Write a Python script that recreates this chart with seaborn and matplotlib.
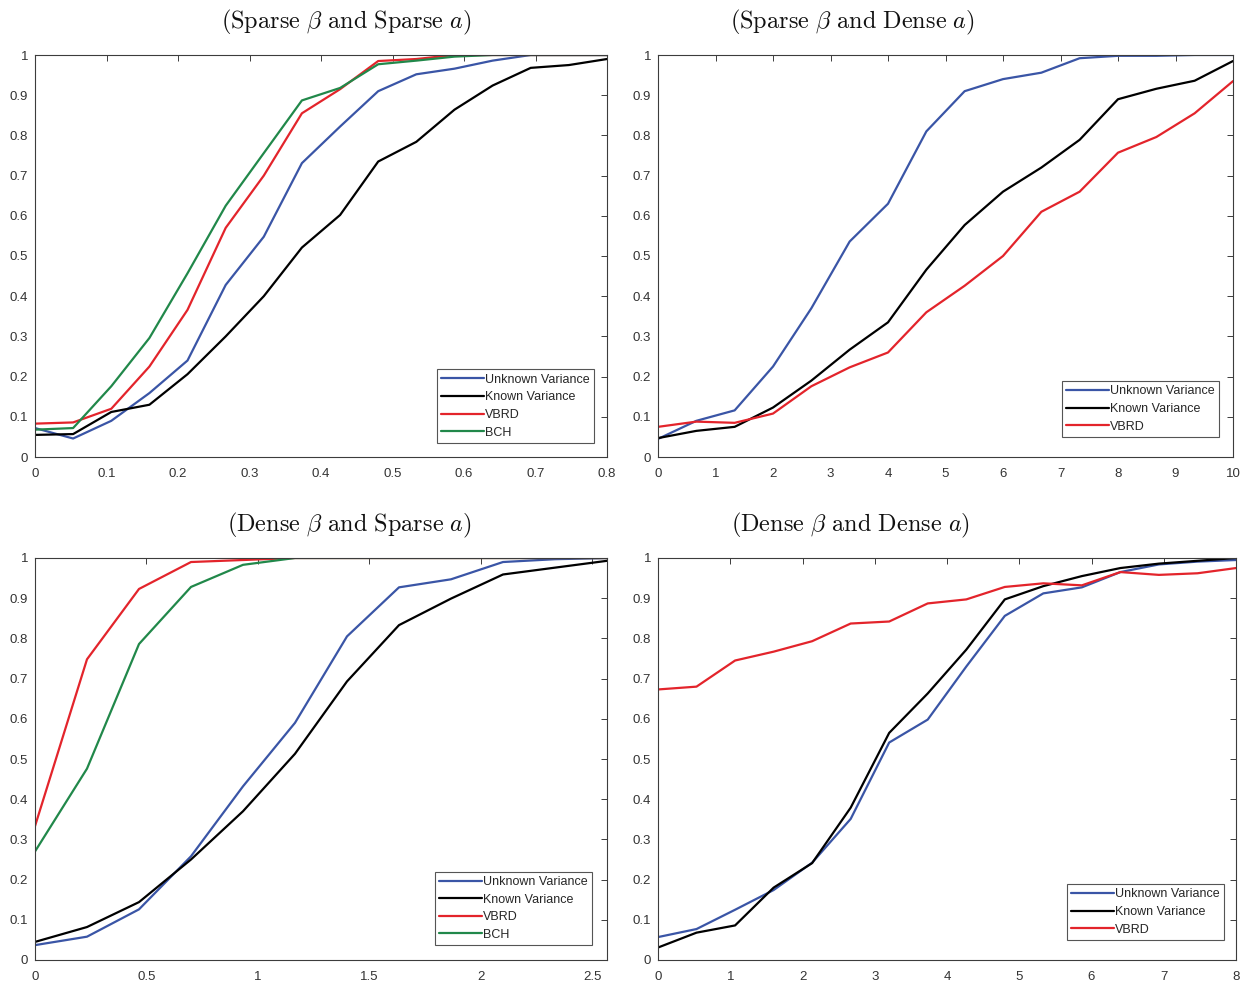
import matplotlib
matplotlib.use("Agg")
import matplotlib.pyplot as plt
from matplotlib.ticker import FuncFormatter, MultipleLocator
import pandas as pd
import seaborn as sns

# ---- data -------------------------------------------------------------
methods = ["Unknown Variance", "Known Variance", "VBRD", "BCH"]

# (Sparse beta and Sparse a)
x_ss = [0, 0.0533, 0.1067, 0.16, 0.2133, 0.2667, 0.32, 0.3733, 0.4267, 0.48,
        0.5333, 0.5867, 0.64, 0.6933, 0.7467, 0.8]
ss_unknown = [0.072, 0.046, 0.09, 0.159, 0.24, 0.428, 0.548, 0.731, 0.822, 0.91,
              0.952, 0.966, 0.986, 1.0, 1.0, 1.0]
ss_known = [0.055, 0.057, 0.112, 0.13, 0.206, 0.30, 0.40, 0.521, 0.602, 0.735,
            0.784, 0.864, 0.924, 0.968, 0.975, 0.99]
ss_vbrd = [0.083, 0.086, 0.12, 0.225, 0.366, 0.57, 0.70, 0.855, 0.915, 0.985,
           0.99, 1.0, 1.0, 1.0, 1.0, 1.0]
ss_bch = [0.068, 0.072, 0.176, 0.296, 0.457, 0.625, 0.756, 0.887, 0.918, 0.977,
          0.986, 0.996, 1.0, 1.0, 1.0, 1.0]

# (Sparse beta and Dense a)
x_sd = [0, 0.667, 1.333, 2, 2.667, 3.333, 4, 4.667, 5.333, 6, 6.667, 7.333,
        8, 8.667, 9.333, 10]
sd_unknown = [0.045, 0.09, 0.116, 0.225, 0.37, 0.536, 0.63, 0.81, 0.91, 0.94,
              0.956, 0.992, 0.998, 0.998, 1.0, 1.0]
sd_known = [0.047, 0.065, 0.075, 0.123, 0.19, 0.267, 0.335, 0.466, 0.577, 0.66,
            0.72, 0.789, 0.89, 0.916, 0.936, 0.985]
sd_vbrd = [0.075, 0.088, 0.085, 0.108, 0.176, 0.223, 0.26, 0.36, 0.426, 0.50,
           0.61, 0.66, 0.757, 0.796, 0.855, 0.935]

# (Dense beta and Sparse a)
x_ds = [0, 0.2333, 0.4667, 0.7, 0.9333, 1.1667, 1.4, 1.6333, 1.8667, 2.1,
        2.3333, 2.5667]
ds_unknown = [0.037, 0.058, 0.126, 0.258, 0.432, 0.59, 0.805, 0.927, 0.947, 0.99,
              0.997, 1.0]
ds_known = [0.045, 0.082, 0.144, 0.25, 0.37, 0.513, 0.693, 0.833, 0.899, 0.959,
            0.976, 0.993]
ds_vbrd = [0.333, 0.748, 0.923, 0.99, 0.995, 1.0, 1.0, 1.0, 1.0, 1.0, 1.0, 1.0]
ds_bch = [0.27, 0.476, 0.786, 0.928, 0.983, 1.0, 1.0, 1.0, 1.0, 1.0, 1.0, 1.0]

# (Dense beta and Dense a)
x_dd = [0, 0.533, 1.067, 1.6, 2.133, 2.667, 3.2, 3.733, 4.267, 4.8, 5.333,
        5.867, 6.4, 6.933, 7.467, 8]
dd_unknown = [0.057, 0.077, 0.125, 0.174, 0.242, 0.351, 0.541, 0.598, 0.73, 0.856,
              0.912, 0.927, 0.965, 0.984, 0.991, 0.995]
dd_known = [0.031, 0.068, 0.086, 0.18, 0.241, 0.379, 0.565, 0.663, 0.772, 0.897,
            0.93, 0.955, 0.975, 0.986, 0.993, 1.0]
dd_vbrd = [0.673, 0.68, 0.745, 0.767, 0.793, 0.837, 0.842, 0.887, 0.897, 0.928,
           0.937, 0.932, 0.965, 0.958, 0.962, 0.975]

x_ticks_ss = [0, 0.1, 0.2, 0.3, 0.4, 0.5, 0.6, 0.7, 0.8]
x_ticks_sd = [0, 1, 2, 3, 4, 5, 6, 7, 8, 9, 10]
x_ticks_ds = [0, 0.5, 1, 1.5, 2, 2.5]
x_ticks_dd = [0, 1, 2, 3, 4, 5, 6, 7, 8]

palette = {"Unknown Variance": "#3a55a6", "Known Variance": "#000000",
           "VBRD": "#e3242b", "BCH": "#21884a"}

# ---- style ------------------------------------------------------------
sns.set_style("white")
plt.rcParams["font.family"] = ["Liberation Sans", "DejaVu Sans"]
plt.rcParams["mathtext.fontset"] = "cm"

fig = plt.figure(figsize=(12.43, 9.83), dpi=100)


def axes_px(left, top, right, bottom):
    W, H = 1243, 983
    return fig.add_axes([left / W, 1 - bottom / H, (right - left) / W, (bottom - top) / H])


panels = [
    dict(rect=(35, 55, 607, 457), x=x_ss, series=[ss_unknown, ss_known, ss_vbrd, ss_bch],
         xlim=(0, 0.8), xticks=x_ticks_ss,
         title=r"$\mathrm{(Sparse\ }\beta\mathrm{\ and\ Sparse\ }a\mathrm{)}$",
         tx=0.544, leg=(0.977, 0.035)),
    dict(rect=(658, 55, 1233, 457), x=x_sd, series=[sd_unknown, sd_known, sd_vbrd],
         xlim=(0, 10), xticks=x_ticks_sd,
         title=r"$\mathrm{(Sparse\ }\beta\mathrm{\ and\ Dense\ }a\mathrm{)}$",
         tx=0.338, leg=(0.976, 0.05)),
    dict(rect=(35, 558, 607, 960), x=x_ds, series=[ds_unknown, ds_known, ds_vbrd, ds_bch],
         xlim=(0, 2.5667), xticks=x_ticks_ds,
         title=r"$\mathrm{(Dense\ }\beta\mathrm{\ and\ Sparse\ }a\mathrm{)}$",
         tx=0.549, leg=(0.974, 0.037)),
    dict(rect=(658, 558, 1236, 960), x=x_dd, series=[dd_unknown, dd_known, dd_vbrd],
         xlim=(0, 8), xticks=x_ticks_dd,
         title=r"$\mathrm{(Dense\ }\beta\mathrm{\ and\ Dense\ }a\mathrm{)}$",
         tx=0.333, leg=(0.979, 0.05)),
]

edge = "#3c3c3c"
for p in panels:
    ax = axes_px(*p["rect"])
    names = methods[:len(p["series"])]
    frames = [pd.DataFrame({"x": p["x"], "power": vals, "method": name})
              for name, vals in zip(names, p["series"])]
    df = pd.concat(frames, ignore_index=True)
    sns.lineplot(data=df, x="x", y="power", hue="method", hue_order=names,
                 palette=palette, estimator=None, sort=False, lw=1.6, ax=ax)

    ax.set_xlim(*p["xlim"])
    ax.set_ylim(0, 1)
    ax.set_xticks(p["xticks"])
    ax.yaxis.set_major_locator(MultipleLocator(0.1))
    ax.xaxis.set_major_formatter(FuncFormatter(lambda v, pos: f"{v:g}"))
    ax.yaxis.set_major_formatter(FuncFormatter(lambda v, pos: f"{round(v, 1):g}"))
    ax.set_xlabel("")
    ax.set_ylabel("")
    ax.tick_params(direction="in", top=True, right=True, length=4, width=0.7,
                   color=edge, labelcolor="#333333", labelsize=9.5)
    ax.tick_params(axis="x", pad=8)
    ax.tick_params(axis="y", pad=5)
    for s in ax.spines.values():
        s.set_color(edge)
        s.set_linewidth(0.8)

    ax.text(p["tx"], 1.082, p["title"], transform=ax.transAxes,
            ha="center", va="center", fontsize=17.5, color="#111111")

    leg = ax.legend(loc="lower right", bbox_to_anchor=p["leg"], borderaxespad=0,
                    fontsize=9, handlelength=3.4, handletextpad=0.1,
                    labelspacing=0.45, borderpad=0.35, fancybox=False,
                    framealpha=1, edgecolor="#555555", title=None)
    leg.get_frame().set_linewidth(0.8)
    for line in leg.get_lines():
        line.set_linewidth(1.6)

fig.savefig("out.png", dpi=100)
